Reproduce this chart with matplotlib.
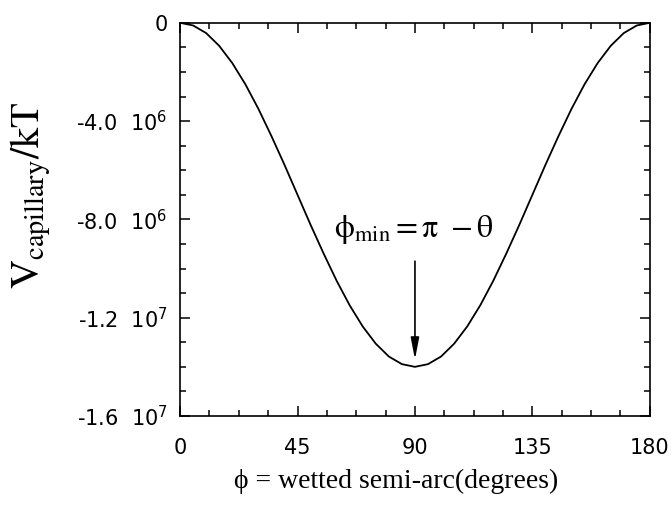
import matplotlib
matplotlib.use("Agg")
import matplotlib.pyplot as plt
import matplotlib.ticker as mticker

# wetted semi-arc (degrees) and capillary potential
phi_deg = [0, 5, 10, 15, 20, 25, 30, 35, 40, 45, 50, 55, 60, 65, 70, 75, 80, 85, 90,
           95, 100, 105, 110, 115, 120, 125, 130, 135, 140, 145, 150, 155, 160, 165, 170, 175, 180]
v_cap = [0.0, -0.11e6, -0.42e6, -0.94e6, -1.64e6, -2.50e6, -3.50e6, -4.61e6, -5.78e6, -7.00e6,
         -8.22e6, -9.39e6, -10.5e6, -11.5e6, -12.36e6, -13.06e6, -13.58e6, -13.89e6, -14.0e6,
         -13.89e6, -13.58e6, -13.06e6, -12.36e6, -11.5e6, -10.5e6, -9.39e6, -8.22e6, -7.00e6,
         -5.78e6, -4.61e6, -3.50e6, -2.50e6, -1.64e6, -0.94e6, -0.42e6, -0.11e6, 0.0]

x_ticks = [0, 45, 90, 135, 180]
y_ticks = [-1.6e7, -1.2e7, -8.0e6, -4.0e6, 0]
y_ticklabels = ['-1.6  10$^{7}$', '-1.2  10$^{7}$', '-8.0  10$^{6}$', '-4.0  10$^{6}$', '0']

plt.rcParams['font.family'] = ['DejaVu Sans']
plt.rcParams['mathtext.fontset'] = 'dejavusans'

fig = plt.figure(figsize=(6.72, 5.12), dpi=100)
ax = fig.add_axes([0.268, 0.1875, 0.699, 0.768])

ax.plot(phi_deg, v_cap, color='black', lw=1.3)

ax.set_xlim(0, 180)
ax.set_ylim(-1.6e7, 0)
ax.set_xticks(x_ticks)
ax.set_yticks(y_ticks)
ax.set_yticklabels(y_ticklabels)
ax.xaxis.set_minor_locator(mticker.MultipleLocator(11.25))
ax.yaxis.set_minor_locator(mticker.MultipleLocator(1e6))
ax.tick_params(which='both', direction='in', top=True, right=True, width=1.1)
ax.tick_params(which='major', length=7, labelsize=15)
ax.tick_params(axis='y', which='major', pad=9)
ax.tick_params(axis='x', which='major', pad=16)
ax.tick_params(which='minor', length=4)
for s in ax.spines.values():
    s.set_linewidth(1.2)

serif = ['Liberation Serif', 'DejaVu Serif']
ax.set_xlabel('ϕ = wetted semi-arc(degrees)', family=serif, fontsize=20)
ax.xaxis.set_label_coords(0.46, -0.135)
ax.set_ylabel(r'$\mathrm{V}_{\mathrm{capillary}}\mathrm{/kT}$', fontsize=29,
              math_fontfamily='stix')
ax.yaxis.set_label_coords(-0.27, 0.56)

# annotation of the minimum
ax.text(89.5, -8.4e6, r'$\mathrm{\phi}_{\mathrm{min}}\mathrm{ = \pi\ - \theta}$', fontsize=23,
        ha='center', va='center', math_fontfamily='stix')
ax.annotate('', xy=(90, -1.37e7), xytext=(90, -9.7e6),
            arrowprops=dict(arrowstyle='-|>,head_length=1.3,head_width=0.25',
                            color='black', lw=1.2, shrinkA=0, shrinkB=0))

fig.savefig('out.png', dpi=100)
